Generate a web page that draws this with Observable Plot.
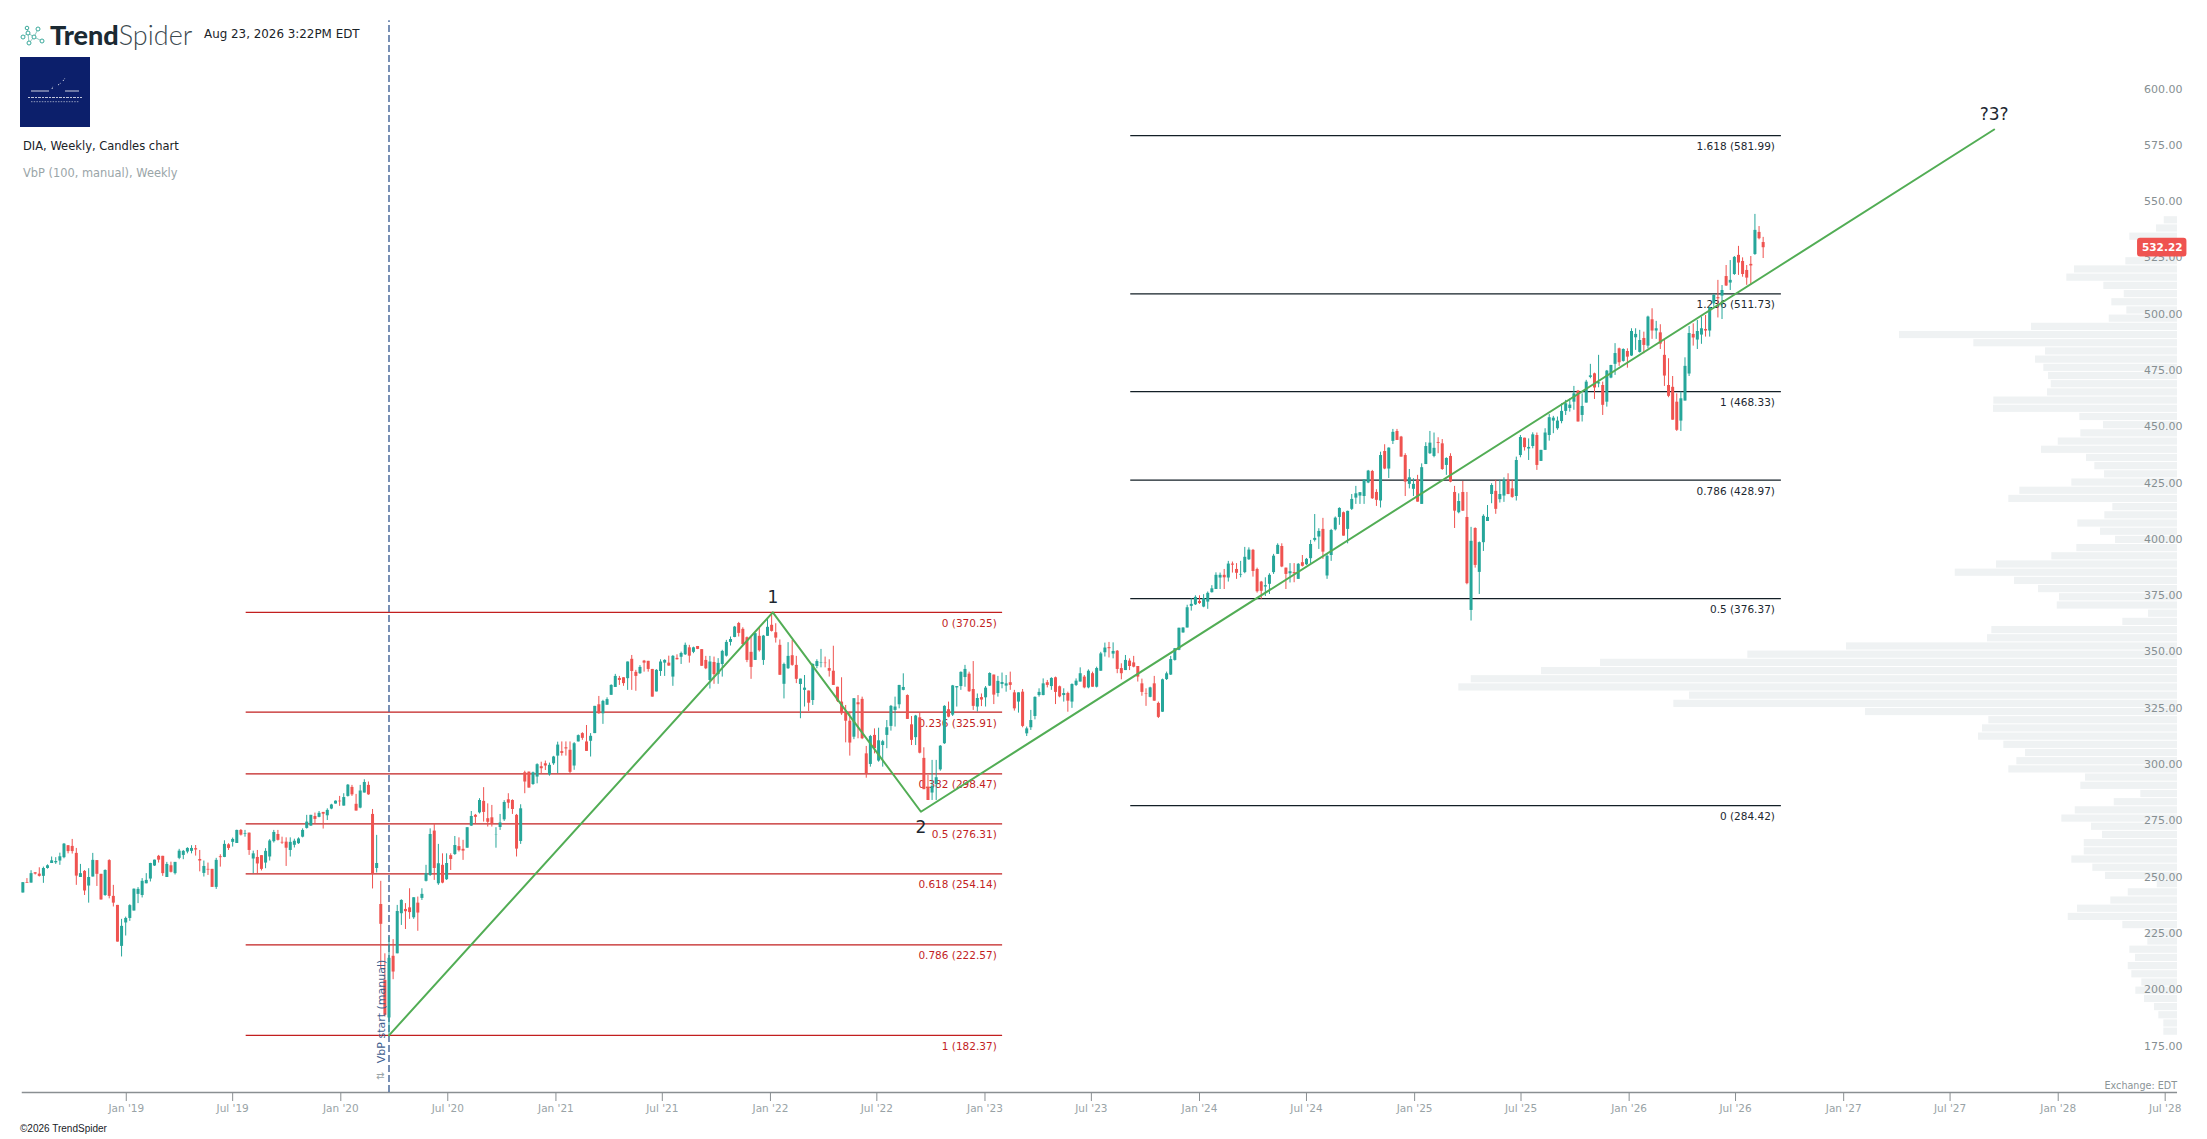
<!DOCTYPE html>
<html>
<head>
<meta charset="utf-8">
<script src="https://cdn.jsdelivr.net/npm/d3@7"></script>
<script src="https://cdn.jsdelivr.net/npm/@observablehq/plot@0.6"></script>
<style>
html,body{margin:0;padding:0;background:#fff;}
#wrap{position:relative;width:2207px;height:1139px;overflow:hidden;font-family:"DejaVu Sans",sans-serif;}
#wrap svg{display:block;}
.ov{position:absolute;white-space:nowrap;line-height:1;}
</style>
</head>
<body>
<div id="wrap">
<div id="chart"></div>
<div class="ov" style="left:50px;top:21px;font-family:Lato,sans-serif;font-size:27px;color:#1b2a33;"><span style="font-weight:900;">Trend</span><span style="font-weight:300;color:#3c494f;">Spider</span></div>
<svg class="ov" style="left:20px;top:25px" width="26" height="22" viewBox="0 0 26 22"><g fill="none" stroke="#3aa99b" stroke-width="1"><path d="M3 12L8 8M8 8L14 12M8 8L9 18M14 12L9 18M14 12L22 16M8 8L7 3M14 12L18 4" stroke="#8fc8c0"/><circle cx="3" cy="12" r="2" fill="#fff"/><circle cx="8" cy="8" r="2" fill="#fff"/><circle cx="7" cy="3" r="1.8" fill="#fff"/><circle cx="18" cy="4" r="2" fill="#fff"/><circle cx="14" cy="12" r="2" fill="#fff"/><circle cx="9" cy="18" r="2" fill="#fff"/><circle cx="22" cy="16" r="2" fill="#fff"/></g></svg>
<div class="ov" style="left:204px;top:29px;font-size:11.9px;color:#1a2328;">Aug 23, 2026 3:22PM EDT</div>
<svg class="ov" style="left:20px;top:57px" width="70" height="70" viewBox="0 0 70 70"><rect width="70" height="70" fill="#0c1f6b"/><g stroke="#fff" stroke-width=".8" fill="none"><path d="M11 34H29M45 34H59"/><path d="M32 32L33 29M38 28L41 26M43 24L45 21" stroke-dasharray="1.5 1.5"/></g><g stroke="#fff" fill="none"><path d="M8 40.5H62" stroke-width="1.2" stroke-dasharray="2 1 3 1" opacity=".75"/><path d="M11 44.7H59" stroke-width="1" stroke-dasharray="1.5 1.2" opacity=".55"/></g></svg>
<div class="ov" style="left:23px;top:141px;font-size:11.5px;color:#1a2328;">DIA, Weekly, Candles chart</div>
<div class="ov" style="left:23px;top:168px;font-size:11.4px;color:#9aa5a8;">VbP (100, manual), Weekly</div>
<div class="ov" style="left:20px;top:1124px;font-size:10px;font-family:'Liberation Sans',sans-serif;color:#1a2328;">©2026 TrendSpider</div>
<div class="ov" style="right:30px;top:1081px;font-size:9.6px;color:#8b9497;">Exchange: EDT</div>
</div>
<script>
// Weekly candles, [open, high, low, close]
const candlesA = [
[245.6,250.2,245.6,250.2],[250.2,252,249.9,249.9],[250,255.5,250,254.2],[254.6,254.6,253.6,254],[254,256.8,252.7,253],[253,257.1,249.9,256.5],[256.5,258.1,256.2,257.7],[258.7,261.6,258.7,259.9],[259,261.3,258.3,259.6],[259.8,263.3,257.9,261.7],
[261.3,267.6,260.8,267.3],[266.6,266.7,263,264],[266.3,269.4,262.9,264],[263.2,265.4,249,253.1],[252.5,258.3,252.5,254.2],[255.2,255.6,244.5,246.5],[248.7,256.4,241.1,252.5],[252.7,263.2,252.7,260.1],[260,260,248.5,253.9],[253.9,253.9,242.5,242.5],
[244.5,255.9,244.1,255.6],[260,260.4,243,244.1],[244.1,249,239.4,241.1],[240.1,240.1,223.8,223.8],[221.9,233.9,217.2,230.8],[232.3,234.9,226.5,234.3],[234.3,240.4,233,240],[237.6,247.4,237.6,247.3],[245,248,240.9,247.2],[244.5,252,243.4,250.8],
[249.7,254.2,249.7,251.2],[251.8,258.8,250.5,258.7],[257.6,260.2,257.4,260.2],[261.9,262.3,258.9,260.2],[261.9,261.9,253,254.2],[252.5,259.2,252.5,258.3],[257.7,259.3,254.5,254.8],[254.2,259.2,253.6,259.2],[261,265,260.4,264.2],[262.3,264.5,260.4,264.1],
[263.8,265.7,263,265.4],[264.1,266.6,263,265.4],[265.3,266.7,262,264.7],[260.5,264.5,255,259.8],[254.3,259.8,252.7,257.4],[256.1,258.9,253.4,255.8],[256.1,256.1,248.1,248.1],[248.1,261,247.2,260.1],[261.7,262.6,257.1,261.3],[261.4,268.8,261.3,267.2],
[267,267.5,264.5,265.4],[268.1,270,266,269.4],[267.6,273.5,267.6,273.4],[273.4,273.8,270.9,271.3],[271.6,273.4,270.4,271.9],[272.2,272.2,262.3,264.5],[260.7,264.2,254.2,263],[261.4,264.5,254.2,258.5],[262.2,262.2,255.4,256.1],[258.9,265.3,256.4,264.1],
[261.6,269.3,259.8,268.7],[268.4,273.4,267.8,272.5],[271.6,273.4,268.7,269],[268.1,270.4,267.2,267.8],[268.2,270.1,257.4,265.5],[264.5,270.1,261.6,268.1],[266.8,269.5,265.6,268.6],[267.5,270.1,267.2,269.6],[270.4,274.1,270.1,273.4],[274.3,280.1,274,277.1]
];
const candlesB = [
[275.3,280.1,275.3,280.1],[279.6,281.1,276.4,278.3],[279.2,281.8,279,281],[281.4,281.4,274,280.6],[279.9,283,277.8,282.3],[282.9,285,282.6,284.7],[285.1,286.5,285.1,286.4],[286.4,288.5,284.1,286.1],[284.2,289.7,284.2,288],[288.5,293.8,288.2,293.5],
[292.5,293.4,288.5,289.2],[285,289.4,282,282],[283.3,293.4,283,290.9],[290,295.9,290,294.7],[293.4,294.9,289,289.2],[280.5,282.7,247.4,254],[256.5,271.2,254.5,258.7],[240.5,250.8,212,231.7],[206.8,218.6,190.5,191.3],[190.1,226,182.4,216.6],
[217.5,224.9,207.1,210.5],[218.6,240.1,218.6,237.4],[236.4,242.6,231.2,242.3],[238.3,240.9,229.4,237.3],[239,247.5,233.9,236.9],[234.6,243.5,233.9,243.5],[241.1,243.8,228.6,236.7],[243.2,247.5,242.3,245],[250.8,257.9,250.5,254.2],[253.4,274.1,253,271.6],
[273.1,276.4,251.2,256.5],[249.7,267.2,249,258.6],[257.9,263,249.7,250],[251.5,263,251.2,258.7],[262.2,263,255.6,260.5],[262.7,270.7,262.3,266.7],[266.2,270.1,263.8,264.4],[265,269,260.1,264.2],[265.5,274.6,265.5,274.6],[275.3,281.8,275.2,279.6],
[280.1,280.5,276.4,279.2],[281.2,287.5,280.7,286.7],[286.3,292.4,277.1,281.4],[278.6,285.2,274.9,277],[279,284.5,274.9,276.1],[271.4,274.6,265.5,271.5],[274.7,280.5,273.4,276.7],[278.1,286.6,277.4,285.8],[287,289.7,283,285.5],[286.7,287,280.5,282.7],
[280.1,280.5,261.6,265.1],[268.5,284.8,267.2,283],[299,299.7,289.7,294.9],[299.3,299.3,292.2,292.2],[293.8,299.3,293.4,299],[297.1,303,294.1,302.6],[301.7,303.7,298.6,300.8],[303,304.2,300,302],[298.1,303.3,297.5,302.3],[303,306.3,302.3,306],
[306.4,312.6,298.6,311.3],[308.4,312.7,306.4,307.6],[310.1,312.7,306.4,309.6],[309,312.7,298.6,299.2],[302,312.4,300.1,311.9],[312.7,315.8,312.7,315.5],[316.4,316.8,313.4,314.3],[312.7,320,308.5,308.5],[313,316.4,306,315.2],[316.4,328.5,316.4,328.5]
];
const candlesC = [
[329.2,332.9,325,325.2],[325.2,331.2,320.5,330.7],[329,332.3,329,331.5],[333.4,338.1,333.4,337.8],[336.9,342.7,336.9,341.8],[340.9,341.8,337.8,340],[341.2,341.2,337.4,338.6],[340.8,348.2,335.6,348.2],[349.4,351.1,335.6,344],[343.6,344.5,335.2,341.8],
[343,346.6,342.7,345.8],[348.6,348.9,343.7,347.7],[348.5,348.5,343.7,344.9],[344.9,344.9,332.6,332.6],[334.9,344.8,334.9,344.5],[344,349.2,341.8,348.2],[347.7,349.2,341.8,348.9],[347.7,350.8,346.3,346.4],[341.5,351.1,337.4,350.7],[349.8,351.4,349.1,349.2],
[350.3,352.6,347.1,352],[351.4,356.6,351.1,355.6],[354.5,355.6,347.7,350.8],[352.5,354.8,351.9,354.5],[355.1,355.1,353.7,353.8],[353.7,353.7,346.3,346.3],[348.9,350.7,344.8,345.2],[340,350.7,336.2,348.2],[348,350.4,338.3,342.6],[342.6,349.7,338.3,347.6],
[347.1,353.4,341.5,352.9],[350.8,357.8,350.4,356.9],[356.9,359.3,355.3,358.2],[359.1,364,359,363.7],[365.3,365.8,359.3,360.9],[362.7,363.4,355.6,355.9],[359,359.3,347.9,348.9],[352.5,359.3,340.5,345.8],[348.9,361,348.9,360.8],[359.6,363.4,352.6,353.2],
[348.9,360,346.7,359.7],[359.6,367.4,359.6,363.6],[364.5,369.3,361.5,361.8],[361.2,365.2,356.6,358.8],[355.6,358,342.3,342.3],[338.3,347.7,331.8,347.1],[345.2,356.8,344.9,350.7],[351,357.8,346.3,346.7],[346.7,350.7,338.6,340.5],[338.2,340.6,323,340.6],
[335.6,342.2,328.2,336.6],[335.3,335.3,326.2,329.9],[331.1,347.4,328.9,347.1],[346.2,349.2,345.2,348.4],[347.6,353.8,345.6,347.8],[347.7,350.4,345.6,347.5],[345.3,349.2,341.5,344.1],[344.1,355.2,337.8,337.8],[337,337,330.2,330.8],[330.4,341.2,324.5,325.2],
[325.9,328.9,312.3,321.9],[321.9,325.9,306.4,312.2],[314.8,331.9,313.7,331.9],[330.1,333.3,314.1,329.2],[331.6,332.6,313.7,314.1],[307.4,310.7,296.6,298.6],[302.7,315.6,301.5,315.1],[315.6,318.5,307.4,309.7],[304.2,318.8,303.7,313.2],[311.1,313.4,301.5,312.8]
];
const candlesD = [
[315.6,322.2,309.7,319],[319.6,328.9,317.5,328.5],[326.7,332.6,319.3,328.2],[329.2,337.8,327.4,337.8],[335.6,342.96,335.4,336.9],[333.3,333.6,322.7,322.7],[320.3,324,311.1,313.4],[314.6,324.5,311.1,324.2],[323.4,325.5,307.4,307.7],[305.4,310.1,291.5,291.5],
[292.6,297.8,286.7,286.7],[290,304.5,286.7,293],[293.8,304.5,286.7,296.8],[300.3,311.1,299.7,310.8],[311.9,328.8,311.6,328.5],[327,330.4,323.4,323.7],[324.6,337.8,324,337.6],[336.7,337.3,328.2,337.3],[337.3,343.8,335.6,343.6],[341.3,346.7,337,344.9],
[342.8,343.7,334.7,335],[336,348.4,326.7,328.5],[328.2,334,326,332],[332.4,334,328.4,331.3],[332.3,337.3,328.2,336.6],[337.5,343.4,337.3,343.1],[342.4,342.4,329.3,333.5],[334.2,341.8,332.6,339.6],[338.2,343.3,336.3,339.1],[337.5,342.2,334.8,338.5],
[339,343.7,335.6,337.8],[334.5,335.6,326.4,327.4],[330.4,334.5,325.5,334.5],[334.8,336,319,319.6],[316.3,319.3,315.1,318.5],[319,326.7,317.8,322.2],[324,332.7,322.5,332.5],[333.3,336.3,332.6,334.7],[333.3,340.7,333.2,338.5],[339,340,336.7,337.8],
[337.3,341.2,335.6,340.9],[341.2,341.5,329.3,334.7],[337.2,337.5,332.3,332.7],[333.3,336.3,330.4,334.2],[334.2,334.8,325.9,330.8],[330.4,338.5,327.6,338.2],[337.8,340.7,337.3,339.7],[339.3,345.6,339.3,343],[341.5,342.2,336.3,336.7],[336.7,344.7,336.3,344.1],
[343,343.7,337,337],[337,345.9,336.7,345.3],[344.1,352.5,344.1,351.8],[352.3,356.6,350.4,354.4],[354.6,356.9,350,354.1],[351.7,356.7,349.6,352.9],[353,353.3,343,344.9],[345.3,347.4,340.3,343],[344.4,351.1,344.4,348.9],[348.6,349.6,344.4,346.2],
[347.8,350.7,345.6,345.9],[346.2,346.2,339.3,341.5],[338.5,340.6,333,334.7],[334.1,336.3,328.5,333.9],[332.5,337,332.3,336.7],[338.5,341.8,330.8,330.8],[329.8,330.4,323.1,323.6],[325.9,340.6,325.8,340.3],[340.4,343.7,340,342.96],[342.4,350.7,342.2,349.3]
];
const candlesE = [
[348.9,354.2,348.6,354.1],[353.4,363.2,353.2,363.2],[361.1,363.4,361,363.3],[363.3,373.4,363.3,372.3],[372.9,376.3,370.8,373.8],[373.6,377.6,373.3,376.9],[375.1,377.6,373.8,374.2],[372.6,378.1,372.3,376.3],[374.8,379.3,371.6,378.7],[379,382.1,378.8,380.7],
[380.4,387.8,380.4,386.7],[385.5,387.7,380.4,386.7],[386.7,389.3,380.4,385.6],[385.5,392.9,383.7,391.7],[391.7,392.6,387.7,391.2],[389.3,391.9,384.9,387.6],[386.8,392.9,385.6,387.1],[387.9,399.1,387.4,394.7],[393.6,398.9,393.3,397.9],[397.8,398.2,385.9,388.4],
[389.3,389.9,378.8,379.4],[383.7,384,376,379.6],[381.5,385.6,377.3,382.1],[382.7,387.4,378.2,386.7],[387.9,396,387.1,395.2],[396,400.7,396,400],[399.5,400.7,390.1,390.4],[389.9,389.9,380.4,387.1],[387.4,391.9,383.3,388.3],[387.9,391.9,383.4,387.4],
[384.9,391.9,384.9,391.6],[392.3,395.5,390.4,390.7],[391.4,394.2,391.1,393.8],[394.1,402.2,391.9,400.4],[402.2,413.7,401.5,403.1],[403.7,407.4,398.2,406.2],[407.1,412,393.8,397],[386.4,396.3,384.9,395.2],[395.5,407.1,392.9,406.6],[406.9,412.6,406.4,412.1],
[412.4,416.7,408.9,416.4],[414.5,414.8,404.1,404.1],[407.1,415.2,400.7,415.1],[416,422.6,415.5,420.4],[421,426.2,418.2,422.9],[421.9,423.4,418.2,423.4],[421.7,429.1,418.2,429],[427.7,433.3,427.4,433],[432.8,433.3,420.4,420.7],[423.5,424.7,417.3,420],
[419.7,441.4,416.6,439.9],[441.7,444.7,433.6,433.9],[433.9,443.3,429.7,443.2],[446.2,451.5,444.8,450.2],[450.6,451.5,446.6,446.6],[448.1,448.4,439.2,439.2],[439.9,440.7,421.7,428.1],[427.1,433.7,425.1,430],[424.9,429.6,421.7,427.1],[428.9,431.1,419.2,419.2],
[418.2,436.2,418.2,434.5],[435.9,445.6,435.9,443.9],[440.7,450.6,440.4,445.4],[439.5,449.9,438.9,443.1],[445.7,447.8,440.7,445.3],[445.1,447,433.3,433.7],[435.5,438.9,431.1,438.6],[439.5,440.7,427.8,428.1],[423.5,426.2,407.5,415.2],[414.5,422.9,414,419.5]
];
const candlesF = [
[423.5,428.4,415.1,415.2],[412.4,423.5,382.5,383],[371.1,408,366.4,401.8],[407.5,407.8,389.9,391.1],[388,401.5,378.2,401.2],[401.2,413.6,397.3,412.9],[410.6,417.7,410.6,412.4],[422.6,427.4,418.5,426.6],[424,428.9,413.8,416],[420.3,428.9,418.8,422.6],
[421.9,430,419.1,428.9],[428.9,431.8,422.5,422.6],[425.1,428.9,420.9,421.3],[421.7,439.2,419.7,437.7],[439.9,448.8,438.9,447.9],[447.6,447.6,441.9,443.4],[442.8,447.3,437.7,443.5],[443.9,450,442.9,449.1],[448.8,449.9,433.3,435.5],[437.3,442.2,437.3,442.2],
[442.2,451.8,442.2,449.9],[448.8,458.1,446.3,456.7],[455.2,457.3,449.6,456.5],[451.8,457,451.1,455.2],[455,462.9,454,459.5],[459.5,464.4,457.7,462.9],[460.8,465,459.2,462.3],[463.6,470.6,460,467.3],[468.5,468.8,454.8,454.8],[457.7,467.3,454.8,461.7],
[463.2,473.3,463.2,472.5],[474.6,480.4,474,475.3],[476.2,476.5,464.8,469.9],[471.7,484.4,470,472.2],[471,472.5,457.7,462.2],[463.6,477.7,461.4,477.4],[474.3,480,474,479.9],[480.4,489.6,475.5,485.2],[487.3,487.6,479.5,481.1],[481.7,487.3,481.4,487],
[486.1,487.3,478.7,483.6],[484.1,496.2,483.9,495],[492.2,496.2,486.6,493.7],[485.7,495.5,485.4,491],[491.9,494.7,485.1,488.8],[488.5,501.8,487.3,501.4],[500.2,505.1,491.5,495.2],[495.2,499.5,491.5,496.2],[494.4,498,487,489.4],[484.4,491,470.6,475.2],
[471,482.9,465.6,466.2],[470.2,475,455.6,455.6],[463.6,467.3,450.6,451.1],[455.2,468.1,450.6,465.1],[464.1,483.3,464.1,479.5],[476.1,497.2,475,494.1],[493.7,498.4,488.5,492.1],[491.2,499.9,487,495],[493.4,501.4,489.3,496.2],[495.9,502.1,492.5,495.2],
[495.2,505.8,492.5,505.5],[507.3,511.4,505.8,511],[510,517.7,501,509.5],[510.7,515.4,500.3,513.2],[519.4,524.3,515,515.2],[516.5,526.5,513.2,517.7],[520.3,528.3,519.9,527.9],[528.8,532.8,519.9,525.4],[526.1,527.7,519.1,520.3],[522.1,524.3,515.5,518.7],
[524.8,528.3,515.5,524.1],[529.2,547,528.8,539.9],[539,541.6,535.7,536.2],[534.5,536.8,527.4,532.2]
];
const firstWeek = "2018-07-09";

// Fibonacci retracement (red) and extension (black)
const fibRedRatio = ["0","0.236","0.382","0.5","0.618","0.786","1"];
const fibRedPrice = [370.25,325.91,298.47,276.31,254.14,222.57,182.37];
const fibBlackRatio = ["1.618","1.236","1","0.786","0.5","0"];
const fibBlackPrice = [581.99,511.73,468.33,428.97,376.37,284.42];
const fibRedSpan = ["2019-07-24","2023-01-31"];
const fibRedLabelAt = "2023-01-21";
const fibBlackSpan = ["2023-09-06","2026-09-17"];
const fibBlackLabelAt = "2026-09-06";

// Wave line
const waveDate = ["2020-03-23","2022-01-05","2022-09-14","2027-09-14"];
const wavePrice = [182.37,370.25,281.7,584.7];
const waveAbove = [["1",370.25,"2022-01-05"],["?3?",584.7,"2027-09-14"]];
const waveBelow = [["2",281.7,"2022-09-14"]];

// Volume by price, top row to bottom row (relative volume)
const vbpTop = 546.2;
const vbpStep = 3.64;
const vbpVolume = [13.3,21,47.7,38,38,51.7,103,110.7,73.7,53.3,65.7,50.7,68.3,146,278,203.7,132,142,133.7,129,126.3,130,183.7,184,97.7,74,96.7,119.3,136,91,82.7,73,105.7,157.7,168.7,64.7,72.7,99.7,77,62,100.7,125.7,181,222.3,163,139,118,120.3,29,54.7,185.7,190,331,429.7,577,636,706.3,718.7,488,503.7,312,188.7,195,199,173.7,152,160.7,168.7,92,96.7,36.7,63.3,102.3,115.7,86,75,93.3,93.3,105.7,84.7,72,20.3,49.3,66.7,100,109.3,54.7,29.7,29.7,47.7,42,49.3,45.7,35.7,41.7,33,23,18.7,13.7,13.7];
const vbpEdge = "2028-07-22";

// Axes
const priceTicks = [600,575,550,525,500,475,450,425,400,375,350,325,300,275,250,225,200,175];
const timeTicks = ["2019-01-01","2019-07-01","2020-01-01","2020-07-01","2021-01-01","2021-07-01","2022-01-01","2022-07-01","2023-01-01","2023-07-01","2024-01-01","2024-07-01","2025-01-01","2025-07-01","2026-01-01","2026-07-01","2027-01-01","2027-07-01","2028-01-01","2028-07-01"];
const axisSpan = ["2018-07-08","2028-07-22"];
const lastPrice = 532.22;
const vbpStart = "2020-03-23";

const D = s => new Date(s + "T00:00:00Z");
const DAY = 864e5;
const candles = [...candlesA,...candlesB,...candlesC,...candlesD,...candlesE,...candlesF].map(([o,h,l,c],i)=>({
  date:new Date(+D(firstWeek)+i*7*DAY),o,h,l,c,up:c>=o
}));
const TEAL="#26a69a", RED="#ef5350";
const up=candles.filter(d=>d.up), down=candles.filter(d=>!d.up);
const redFib=fibRedPrice.map((p,i)=>({p,t:`${fibRedRatio[i]} (${p.toFixed(2)})`}));
const blackFib=fibBlackPrice.map((p,i)=>({p,t:`${fibBlackRatio[i]} (${p.toFixed(2)})`}));
const wave=waveDate.map((d,i)=>({date:D(d),p:wavePrice[i]}));
const pxPerDay=2207/((+D("2028-09-11")-+D("2018-06-01"))/DAY);
const vbp=vbpVolume.map((v,i)=>({v,hi:vbpTop-i*vbpStep,lo:vbpTop-(i+1)*vbpStep,from:new Date(+D(vbpEdge)-v/pxPerDay*DAY),to:D(vbpEdge)}));
const FONT="DejaVu Sans, sans-serif";

const chart=Plot.plot({
  width:2207,height:1139,
  marginTop:0,marginRight:0,marginBottom:47,marginLeft:0,
  style:{background:"#fff",fontFamily:FONT},
  x:{type:"utc",domain:[D("2018-06-01"),D("2028-09-11")],axis:null},
  y:{domain:[157,642],axis:null},
  marks:[
    Plot.rect(vbp,{x1:"from",x2:"to",y1:"lo",y2:"hi",fill:"#eff2f3",insetTop:.5,insetBottom:.5}),
    Plot.ruleY([157],{x1:()=>D(axisSpan[0]),x2:()=>D(axisSpan[1]),stroke:"#8a8f92",strokeWidth:1.3}),
    Plot.axisX(timeTicks.map(D),{anchor:"bottom",label:null,tickSize:9,tickPadding:3,stroke:"#8a8f92",fill:"#99a3a6",fontSize:10.5,
      tickFormat:d=>d3.utcFormat("%b '%y")(d)}),
    Plot.text(priceTicks,{frameAnchor:"right",y:d=>d,dx:-25,dy:-6,text:d=>d.toFixed(2),textAnchor:"end",fill:"#868f92",fontSize:11}),
    Plot.ruleY(fibRedPrice,{x1:()=>D(fibRedSpan[0]),x2:()=>D(fibRedSpan[1]),stroke:"#c21f1f",strokeWidth:1.2}),
    Plot.ruleY(fibBlackPrice,{x1:()=>D(fibBlackSpan[0]),x2:()=>D(fibBlackSpan[1]),stroke:"#131f26",strokeWidth:1.2}),
    Plot.text(redFib,{x:()=>D(fibRedLabelAt),y:"p",dy:11,text:"t",textAnchor:"end",fill:"#c21f1f",fontSize:10.5}),
    Plot.text(blackFib,{x:()=>D(fibBlackLabelAt),y:"p",dy:11,text:"t",textAnchor:"end",fill:"#1c2730",fontSize:10.5}),
    Plot.ruleX([D(vbpStart)],{y1:157,y2:633,stroke:"#3f6196",strokeWidth:1.4,strokeDasharray:"7 3"}),
    Plot.ruleX(down,{x:"date",y1:"l",y2:"h",stroke:RED,strokeWidth:1}),
    Plot.ruleX(up,{x:"date",y1:"l",y2:"h",stroke:TEAL,strokeWidth:1}),
    Plot.ruleX(down,{x:"date",y1:"o",y2:"c",stroke:RED,strokeWidth:3}),
    Plot.ruleX(up,{x:"date",y1:"o",y2:"c",stroke:TEAL,strokeWidth:3}),
    Plot.text(["VbP start (manual)"],{x:()=>D(vbpStart),y:()=>170,rotate:-90,dx:-8,textAnchor:"start",fill:"#3f5f8f",fontSize:11}),
    Plot.text(["⇅"],{x:()=>D(vbpStart),y:()=>162.5,rotate:-90,dx:-8,textAnchor:"start",fill:"#9aa5a8",fontSize:10}),
    Plot.line(wave,{x:"date",y:"p",stroke:"#52ad55",strokeWidth:2}),
    Plot.text(waveAbove,{x:d=>D(d[2]),y:d=>d[1],text:d=>d[0],fill:"#1c2730",fontSize:17,dy:-15}),
    Plot.text(waveBelow,{x:d=>D(d[2]),y:d=>d[1],text:d=>d[0],fill:"#1c2730",fontSize:17,dy:16}),
    Plot.rect([lastPrice],{x1:()=>D("2028-05-15"),x2:()=>D("2028-08-07"),y1:d=>d-4.15,y2:d=>d+4.15,fill:"#ef5350",rx:3}),
    Plot.text([lastPrice],{frameAnchor:"right",y:d=>d,dx:-25,dy:-.5,text:d=>d.toFixed(2),textAnchor:"end",fill:"#fff",fontWeight:600,fontSize:10.5})
  ]
});
document.getElementById("chart").appendChild(chart);
</script>
</body>
</html>
